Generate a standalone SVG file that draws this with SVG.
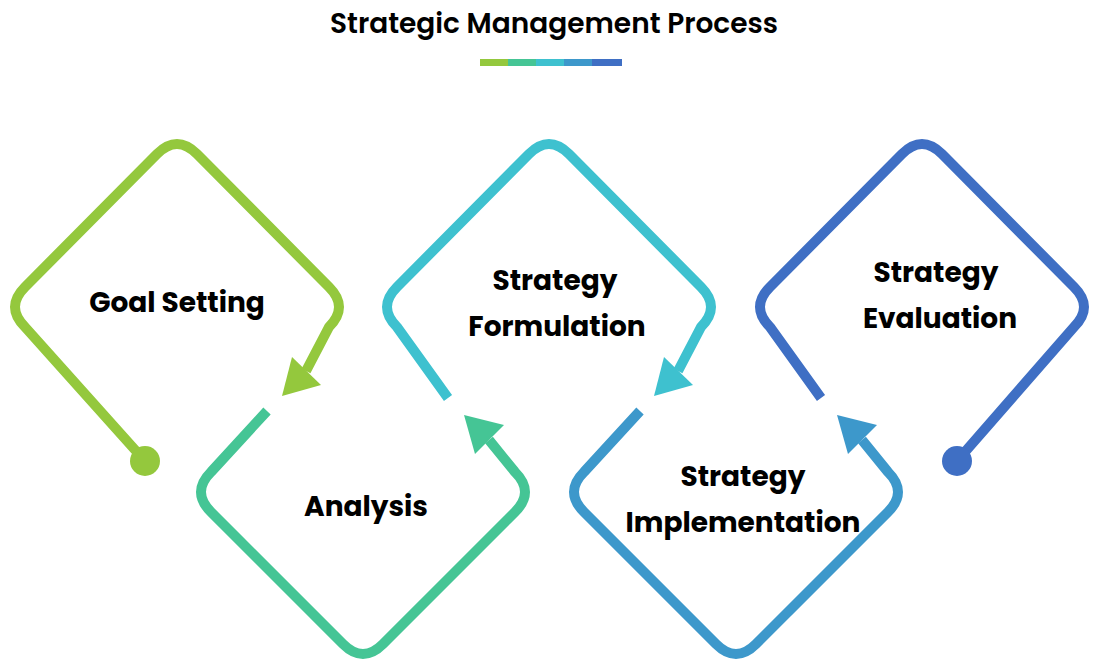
<svg xmlns="http://www.w3.org/2000/svg" width="1100" height="672" viewBox="0 0 1100 672">
<style>
text{font-family:Poppins,"Open Sans","Liberation Sans",sans-serif;font-weight:700;fill:#000;text-anchor:middle}
.t{font-size:28px}
.title{font-size:28px;font-weight:600}
.s{fill:none;stroke-width:10;stroke-linejoin:round}
</style>
<rect width="1100" height="672" fill="#fff"/>
<g id="title">
<text class="title" x="554" y="33">Strategic Management Process</text>
<rect x="480" y="59" width="29" height="7" fill="#94C83D"/>
<rect x="508" y="59" width="29" height="7" fill="#45C595"/>
<rect x="536" y="59" width="29" height="7" fill="#3EC1CF"/>
<rect x="564" y="59" width="29" height="7" fill="#3D98CB"/>
<rect x="592" y="59" width="30" height="7" fill="#3F6FC4"/>
</g>
<g id="connectors">
<path class="s" stroke="#94C83D" d="M145,461 L25,327 Q5,307 25,287 L157,154 Q177,134 197,154 L329,287 Q349,307 329,327 L306,371"/>
<polygon fill="#94C83D" points="282,396 292,357 321,385"/>
<circle cx="145" cy="461" r="15" fill="#94C83D"/>
<path class="s" stroke="#45C595" d="M267,411 L211,472 Q191,492 211,512 L343,644 Q363,664 383,644 L515,512 Q535,492 515,472 L489,440"/>
<polygon fill="#45C595" points="464,415 475,454 504,425"/>
<path class="s" stroke="#3EC1CF" d="M448,398 L397,327 Q377,307 397,287 L529,154 Q549,134 569,154 L701,287 Q721,307 701,327 L678,371"/>
<polygon fill="#3EC1CF" points="654,396 664,357 693,385"/>
<path class="s" stroke="#3D98CB" d="M640,411 L584,472 Q564,492 584,512 L716,644 Q736,664 756,644 L888,512 Q908,492 888,472 L862,440"/>
<polygon fill="#3D98CB" points="837,415 848,454 877,425"/>
<path class="s" stroke="#3F6FC4" d="M821,398 L770,327 Q750,307 770,287 L902,154 Q922,134 942,154 L1074,287 Q1094,307 1074,327 L957,461"/>
<circle cx="957" cy="461" r="15" fill="#3F6FC4"/>
</g>
<g id="goal"><text class="t" x="177" y="312">Goal Setting</text></g>
<g id="analysis"><text class="t" x="366" y="516">Analysis</text></g>
<g id="formulation"><text class="t" x="555" y="290">Strategy</text><text class="t" x="557" y="336">Formulation</text></g>
<g id="implementation"><text class="t" x="743" y="486">Strategy</text><text class="t" x="743" y="532">Implementation</text></g>
<g id="evaluation"><text class="t" x="936" y="282">Strategy</text><text class="t" x="940" y="328">Evaluation</text></g>
</svg>
